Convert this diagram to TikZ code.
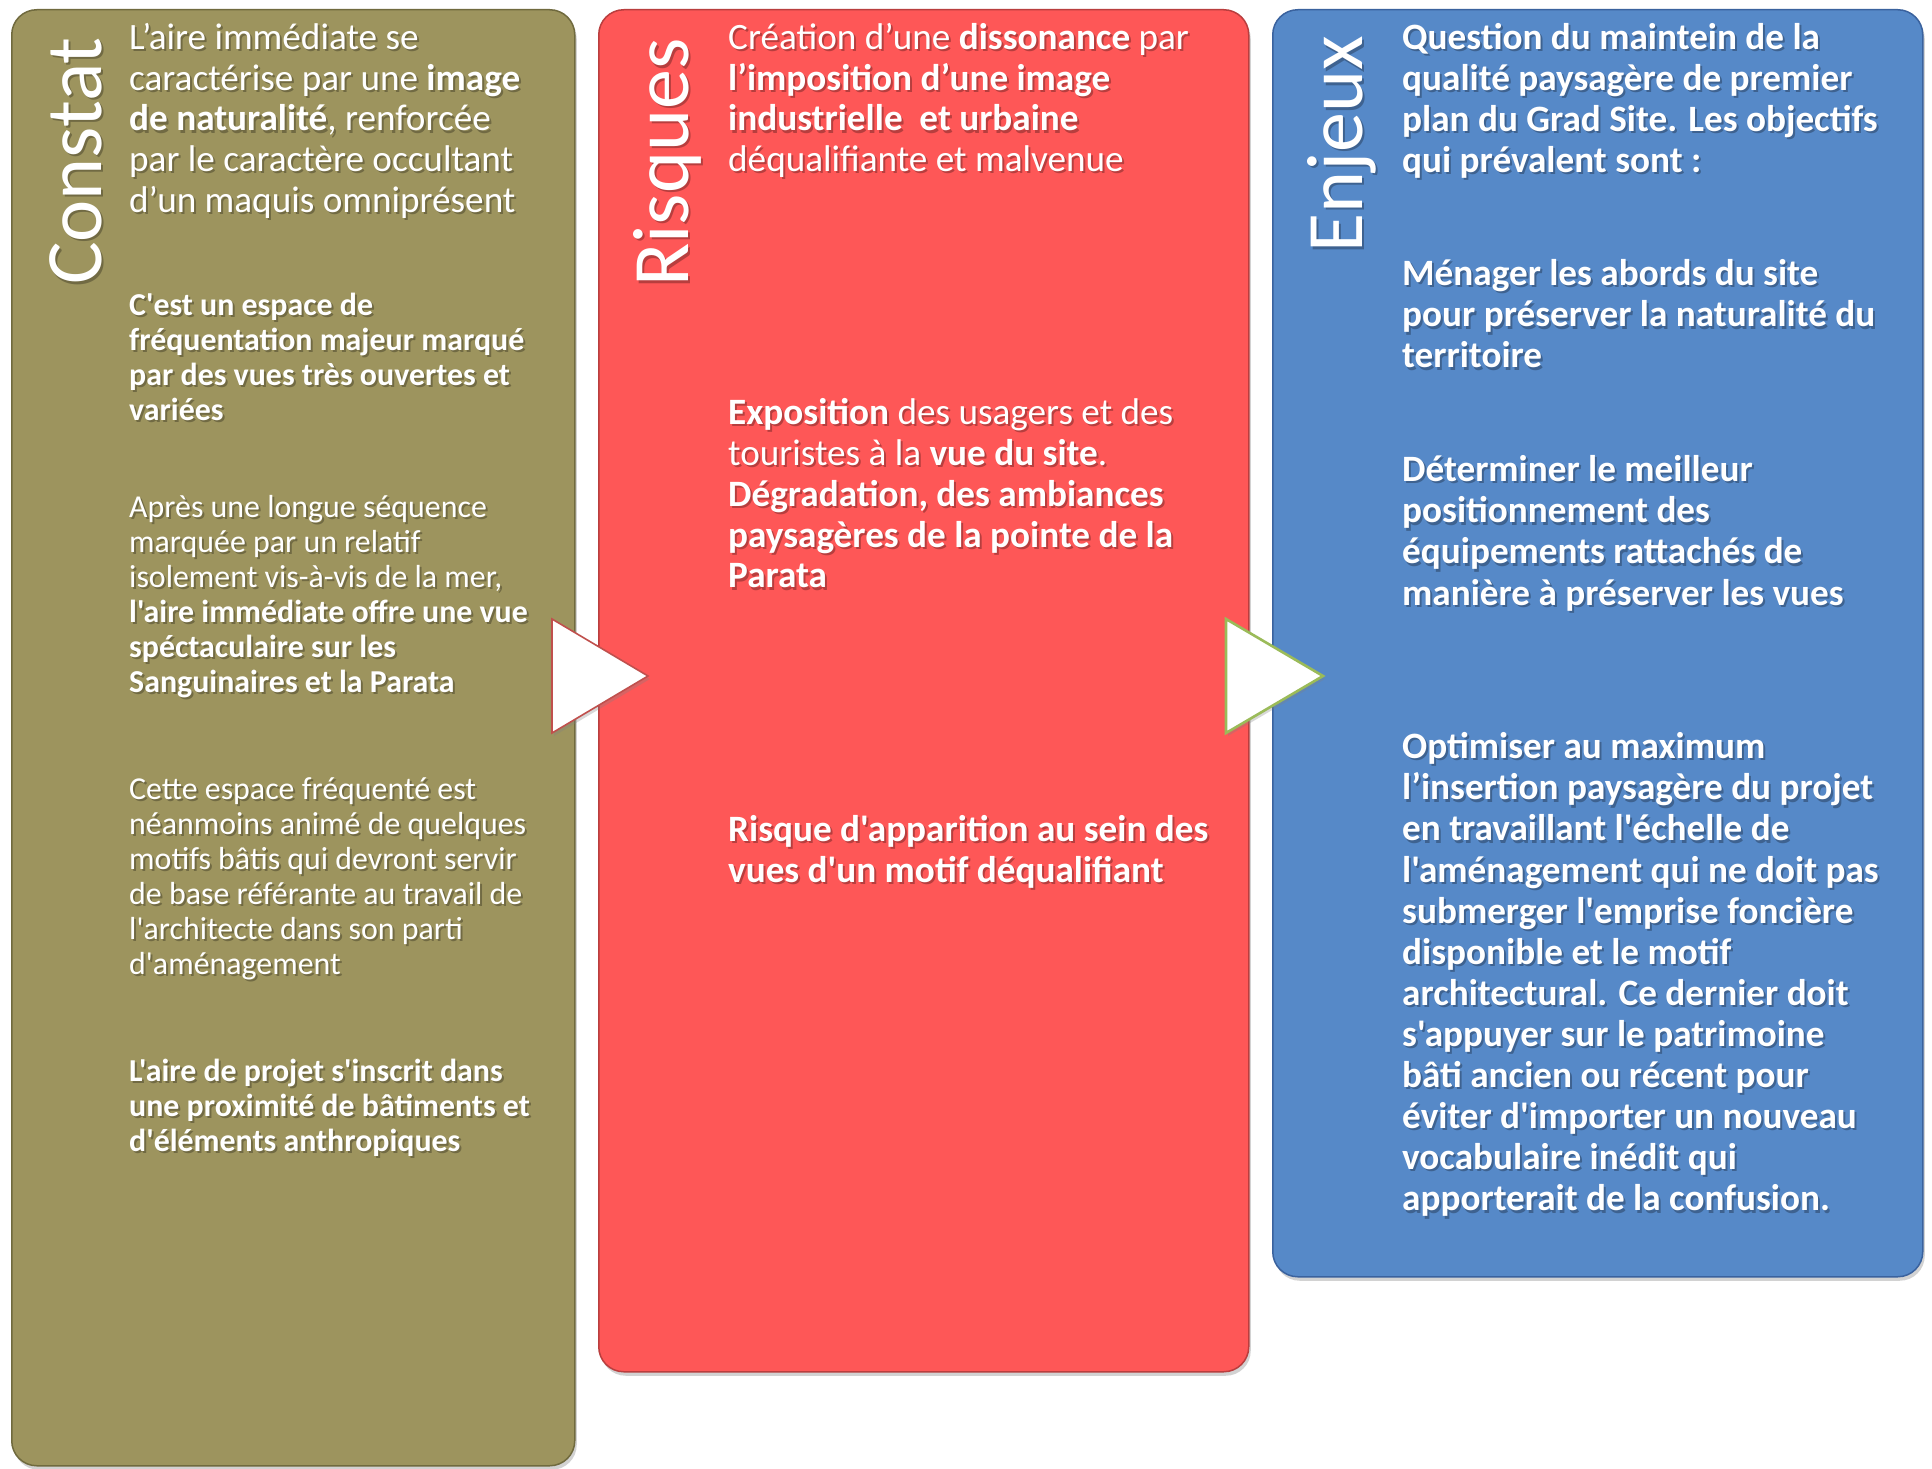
\documentclass[tikz,border=0pt]{standalone}
\usepackage{fontspec}
\setmainfont{Carlito}[Ligatures=TeXOff]
\usetikzlibrary{shadows}
\definecolor{cOlive}{RGB}{157,148,94}
\definecolor{cOliveD}{RGB}{112,106,62}
\definecolor{cRed}{RGB}{254,87,87}
\definecolor{cRedD}{RGB}{185,62,62}
\definecolor{cBlue}{RGB}{86,137,200}
\definecolor{cBlueD}{RGB}{58,98,158}
\definecolor{cArrowRed}{RGB}{192,80,77}
\definecolor{cArrowGreen}{RGB}{155,187,89}
\newcommand\ptext[4]{%
  \node[xshift=2pt, yshift=-2.2pt, #1, text=black, text opacity=0.28] (#2s) at (#3) {#4};
  \node[#1] (#2) at (#3) {#4};}
\begin{document}
\begin{tikzpicture}[x=1pt,y=-1pt,
  panel/.style={rectangle, rounded corners=25pt, line width=1.5pt, anchor=north west, inner sep=0pt,
    drop shadow={shadow xshift=2pt, shadow yshift=-4pt, opacity=0.35}},
  bigtxt/.style={font=\fontsize{37.2}{40.8}\selectfont, text=white, anchor=north west, inner sep=0pt, align=left},
  bigtxtb/.style={font=\fontsize{37.2}{41.1}\selectfont\bfseries, text=white, anchor=north west, inner sep=0pt, align=left},
  smalltxt/.style={font=\fontsize{31.9}{35.1}\selectfont, text=white, anchor=north west, inner sep=0pt, align=left},
  smalltxtb/.style={font=\fontsize{31.9}{35.1}\selectfont\bfseries, text=white, anchor=north west, inner sep=0pt, align=left},
  titletxt/.style={font=\fontsize{80}{80}\selectfont, text=white, rotate=90, anchor=base west, inner sep=0pt},
  arrowshape/.style={fill=white, line join=miter, drop shadow={shadow xshift=2pt, shadow yshift=-3pt, opacity=0.3}}
]
\useasboundingbox[fill=white] (0,0) rectangle (1932,1469);
\newcommand\sB{\rule{0pt}{30pt}}
\newcommand\sS{\rule{0pt}{26pt}}

% panels
\node[panel, fill=cOlive, draw=cOliveD, minimum width=563pt, minimum height=1456pt] (p1) at (11,9) {};
\node[panel, fill=cRed, draw=cRedD, minimum width=650pt, minimum height=1362pt] (p2) at (598,9) {};
\draw[arrowshape, draw=cArrowRed, line width=1.6pt] (552,619) -- (552,733) -- (648,676) -- cycle;
\node[panel, fill=cBlue, draw=cBlueD, minimum width=650pt, minimum height=1267pt] (p3) at (1272,9) {};
\draw[arrowshape, draw=cArrowGreen, line width=2.6pt] (1226,619) -- (1226,733) -- (1323,676) -- cycle;

% titles
\ptext{titletxt}{t1}{101,285}{Constat}
\ptext{titletxt}{t2}{688,287}{Risques}
\ptext{titletxt}{t3}{1362,253}{Enjeux}

% panel 1
\ptext{bigtxt}{a1}{129,19}{\sB L’aire immédiate se\\
caractérise par une \textbf{image}\\
\textbf{de naturalité}, renforcée\\
par le caractère occultant\\
d’un maquis omniprésent}
\ptext{smalltxtb}{a2}{129,289}{\sS C'est un espace de\\
fréquentation majeur marqué\\
par des vues très ouvertes et\\
variées}
\ptext{smalltxt}{a3}{129,491}{\sS Après une longue séquence\\
marquée par un relatif\\
isolement vis-à-vis de la mer,\\
\textbf{l'aire immédiate offre une vue}\\
\textbf{spéctaculaire sur les}\\
\textbf{Sanguinaires et la Parata}}
\ptext{smalltxt}{a4}{129,773}{\sS Cette espace fréquenté est\\
néanmoins animé de quelques\\
motifs bâtis qui devront servir\\
de base référante au travail de\\
l'architecte dans son parti\\
d'aménagement}
\ptext{smalltxtb}{a5}{129,1055}{\sS L'aire de projet s'inscrit dans\\
une proximité de bâtiments et\\
d'éléments anthropiques}

% panel 2
\ptext{bigtxt}{b1}{728,19}{\sB Création d’une \textbf{dissonance} par\\
\textbf{l’imposition d’une image}\\
\textbf{industrielle\ \ et urbaine}\\
déqualifiante et malvenue}
\ptext{bigtxt}{b2}{728,394.5}{\sB\textbf{Exposition} des usagers et des\\
touristes à la \textbf{vue du site}.\\
\textbf{Dégradation, des ambiances}\\
\textbf{paysagères de la pointe de la}\\
\textbf{Parata}}
\ptext{bigtxt}{b3}{728,811.5}{\sB\textbf{Risque d'apparition au sein des}\\
\textbf{vues d'un motif déqualifiant}}

% panel 3
\ptext{bigtxtb}{c1}{1402,19}{\sB Question du maintein de la\\
qualité paysagère de premier\\
plan du Grad Site. Les objectifs\\
qui prévalent sont :}
\ptext{bigtxtb}{c2}{1402,255.5}{\sB Ménager les abords du site\\
pour préserver la naturalité du\\
territoire}
\ptext{bigtxtb}{c3}{1402,451.5}{\sB Déterminer le meilleur\\
positionnement des\\
équipements rattachés de\\
manière à préserver les vues}
\ptext{bigtxtb}{c4}{1402,728.5}{\sB Optimiser au maximum\\
l’insertion paysagère du projet\\
en travaillant l'échelle de\\
l'aménagement qui ne doit pas\\
submerger l'emprise foncière\\
disponible et le motif\\
architectural. Ce dernier doit\\
s'appuyer sur le patrimoine\\
bâti ancien ou récent pour\\
éviter d'importer un nouveau\\
vocabulaire inédit qui\\
apporterait de la confusion.}
\end{tikzpicture}
\end{document}
